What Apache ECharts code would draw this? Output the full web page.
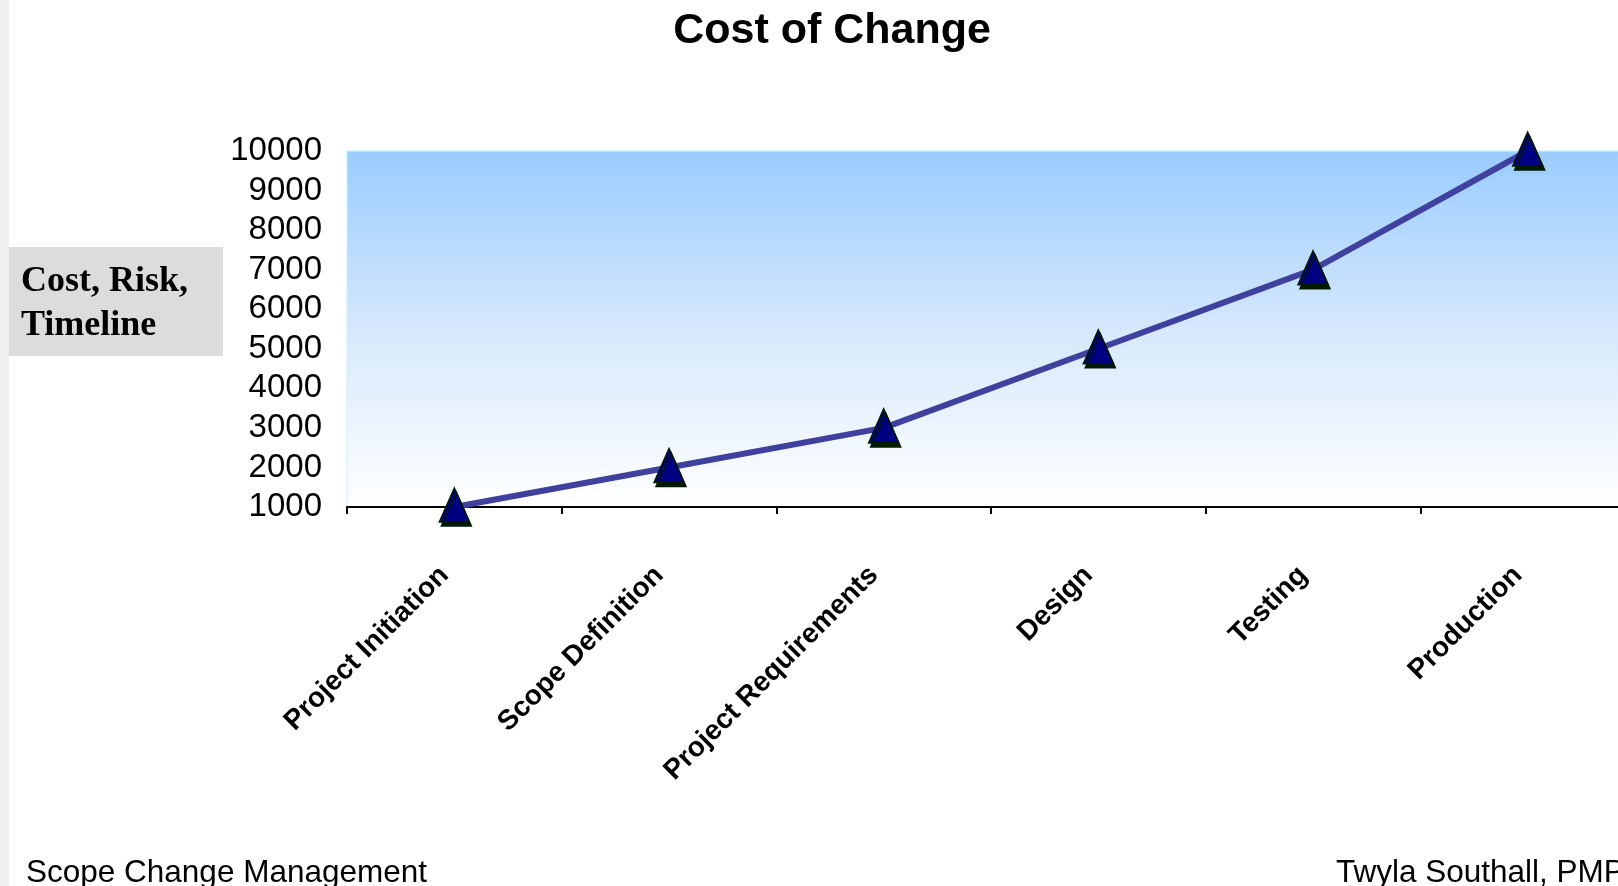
<!DOCTYPE html>
<html>
<head>
<meta charset="utf-8">
<title>Cost of Change</title>
<script src="https://cdn.jsdelivr.net/npm/echarts@6/dist/echarts.min.js"></script>
<style>
  html, body { margin: 0; padding: 0; background: #ffffff; }
  #chart { width: 1618px; height: 886px; }
</style>
</head>
<body>
<div id="chart"></div>
<script>
// Project phases along the horizontal axis
const phases = ['Project Initiation', 'Scope Definition', 'Project Requirements', 'Design', 'Testing', 'Production'];
// Relative cost of making a change in each phase
const costOfChange = [1000, 2000, 3000, 5000, 7000, 10000];
// Value axis range
const yMin = 1000;
const yMax = 10000;
const yStep = 1000;

const chart = echarts.init(document.getElementById('chart'));

const option = {
  backgroundColor: '#ffffff',
  animation: false,
  title: {
    text: 'Cost of Change',
    left: 827,
    top: 5,
    textAlign: 'center',
    textStyle: {
      fontFamily: 'Liberation Sans, Arial, sans-serif',
      fontSize: 43,
      fontWeight: 'bold',
      color: '#000000'
    }
  },
  grid: {
    left: 347,
    top: 151,
    right: -17,
    bottom: 379,
    outerBoundsMode: 'none',
    containLabel: false,
    show: true,
    borderColor: '#c4f4ff',
    borderWidth: 1,
    backgroundColor: new echarts.graphic.LinearGradient(0, 0, 0, 1, [
      { offset: 0, color: '#99ccff' },
      { offset: 0.5, color: '#d6e8fc' },
      { offset: 1, color: '#ffffff' }
    ])
  },
  xAxis: {
    type: 'category',
    data: phases,
    boundaryGap: true,
    axisLine: { show: true, lineStyle: { color: '#000000', width: 2 } },
    axisTick: { show: true, length: 7, lineStyle: { color: '#000000', width: 2 } },
    axisLabel: {
      rotate: 45,
      margin: 54,
      padding: [0, 14, 0, 0],
      interval: 0,
      fontFamily: 'Liberation Sans, Arial, sans-serif',
      fontSize: 28,
      fontWeight: 'bold',
      color: '#000000'
    },
    splitLine: { show: false }
  },
  yAxis: {
    type: 'value',
    min: yMin,
    max: yMax,
    interval: yStep,
    axisLine: { show: false },
    axisTick: { show: false },
    splitLine: { show: false },
    axisLabel: {
      margin: 25,
      formatter: function (v) { return String(v); },
      fontFamily: 'Liberation Sans, Arial, sans-serif',
      fontSize: 33,
      color: '#000000'
    }
  },
  series: [{
    type: 'line',
    data: costOfChange,
    lineStyle: { color: '#40409f', width: 6 },
    symbol: 'triangle',
    symbolSize: [30, 34],
    symbolOffset: [0, -2],
    itemStyle: {
      color: '#000080',
      borderColor: '#001800',
      borderWidth: 1.5,
      shadowColor: '#001a00',
      shadowBlur: 0,
      shadowOffsetX: 2,
      shadowOffsetY: 4
    },
    z: 3
  }],
  graphic: [
    // thin grey strip on the left edge
    { type: 'rect', left: 0, top: 0, shape: { width: 9, height: 886 }, style: { fill: '#efefef' }, silent: true },
    // value axis caption box
    { type: 'rect', left: 9, top: 247, shape: { width: 214, height: 109 }, style: { fill: '#dcdcdc' }, silent: true },
    {
      type: 'text', left: 21, top: 260,
      style: {
        text: 'Cost, Risk,\nTimeline',
        fontFamily: 'Liberation Serif, Times New Roman, serif',
        fontSize: 36,
        fontWeight: 'bold',
        lineHeight: 44,
        fill: '#000000'
      },
      silent: true
    },
    // footer texts
    {
      type: 'text', left: 26, top: 857,
      style: {
        text: 'Scope Change Management',
        fontFamily: 'Liberation Sans, Arial, sans-serif',
        fontSize: 31.5,
        fill: '#000000'
      },
      silent: true
    },
    {
      type: 'text', left: 1336, top: 857,
      style: {
        text: 'Twyla Southall, PMP',
        fontFamily: 'Liberation Sans, Arial, sans-serif',
        fontSize: 31.5,
        fill: '#000000'
      },
      silent: true
    }
  ]
};

chart.setOption(option);
</script>
</body>
</html>
